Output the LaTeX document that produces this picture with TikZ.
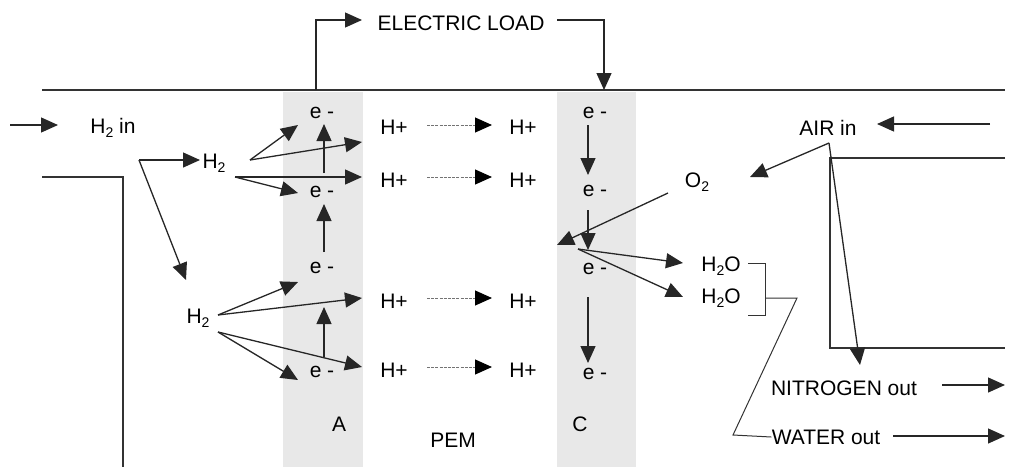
\documentclass[tikz,border=0pt]{standalone}
\usepackage{fontspec}
\setmainfont{Liberation Sans}
\usetikzlibrary{arrows.meta}
\newcommand{\chemsub}[1]{\raisebox{-0.35ex}{\fontsize{7}{8}\selectfont #1}}
\tikzset{
  lbl/.style={font=\fontsize{10.5}{12}\selectfont, inner sep=0pt},
  flow/.style={-{Triangle[length=8.5pt,width=7.5pt]}, line width=0.65pt, draw=black!85},
  ion/.style={-{Triangle[length=8.5pt,width=7.5pt,color=black]}, line width=0.5pt, draw=black!55, dash pattern=on 1.5pt off 0.6pt},
  wall/.style={line width=0.65pt, draw=black!80},
  band/.style={fill=black!9, draw=none},
}
\begin{document}
\begin{tikzpicture}[x=0.5pt, y=-0.5pt]
    \useasboundingbox (0,0) rectangle (1012,467);

    % Electrode bands
    \fill[band] (283,92) rectangle (363,467);
    \fill[band] (557,92) rectangle (636,467);

    % Cell walls
    \draw[wall] (42,90) -- (1005,90);
    \draw[wall] (42,177) -- (123,177) -- (123,467);
    \draw[wall] (1005,158) -- (830,158) -- (830,348) -- (1005,348);

    % External circuit
    \node[lbl] (load) at (461,23) {ELECTRIC LOAD};
    \coordinate (ltap) at (316,90);
    \coordinate (rtap) at (604,90);
    \draw[flow] (ltap) -- (316,20) -- (362,20);
    \draw[flow] (557,20) -- (rtap |- 0,20) -- (rtap);

    % Hydrogen side
    \node[lbl] (h2in) at (113,128) {H\chemsub{2} in};
    \node[lbl] (h2up) at (214,163) {H\chemsub{2}};
    \node[lbl] (h2dn) at (198,318) {H\chemsub{2}};
    \coordinate (hsplit) at (139,160);
    \draw[flow] (10,125) -- (58,125);
    \draw[flow] (hsplit) -- (200,160);
    \draw[flow] (hsplit) -- (186,280);

    % Anode electrons
    \node[lbl] (ea1) at (322,113) {e -};
    \node[lbl] (ea2) at (322,192) {e -};
    \node[lbl] (ea3) at (322,268) {e -};
    \node[lbl] (ea4) at (322,372) {e -};
    \draw[flow] (324,173) -- (324,124);
    \draw[flow] (324,252) -- (324,204);
    \draw[flow] (324,357) -- (324,307);

    % H2 splitting into e- and H+
    \coordinate (f1) at (250,160);
    \coordinate (f2) at (235,177);
    \coordinate (f3) at (218,315);
    \coordinate (f4) at (218,332);
    \draw[flow] (f1) -- (298,125);
    \draw[flow] (f1) -- (362,142);
    \draw[flow] (f2) -- (298,193);
    \draw[flow] (f2) -- (362,177);
    \draw[flow] (f3) -- (298,282);
    \draw[flow] (f3) -- (362,298);
    \draw[flow] (f4) -- (298,380);
    \draw[flow] (f4) -- (362,367);

    % Protons through the membrane
    \foreach \r/\yy/\ya in {1/127/125, 2/180/177, 3/301/298, 4/370/367} {
        \node[lbl] (hpl\r) at (394,\yy) {H+};
        \node[lbl] (hpr\r) at (523,\yy) {H+};
        \draw[ion] (427,\ya) -- (492,\ya);
    }

    % Cathode electrons
    \node[lbl] (ec1) at (595,113) {e -};
    \node[lbl] (ec2) at (595,191) {e -};
    \node[lbl] (ec3) at (595,269) {e -};
    \node[lbl] (ec4) at (595,374) {e -};
    \draw[flow] (588,125) -- (588,175);
    \draw[flow] (588,210) -- (588,250);
    \draw[flow] (588,297) -- (588,363);

    % Air side
    \node[lbl] (air) at (828,128) {AIR in};
    \node[lbl] (o2) at (697,182) {O\chemsub{2}};
    \coordinate (asplit) at (829,143);
    \draw[flow] (990,124) -- (877,124);
    \draw[flow] (asplit) -- (750,177);
    \draw[flow] (asplit) -- (860,365);
    \coordinate (react) at (578,249);
    \draw[flow] (668,193) -- (557,245);

    % Water formation
    \node[lbl] (w1) at (721,266) {H\chemsub{2}O};
    \node[lbl] (w2) at (721,298) {H\chemsub{2}O};
    \draw[flow] (react) -- (683,263);
    \draw[flow] (react) -- (683,297);
    \draw[wall, line width=0.5pt] (748,263) -- (765,263) -- (765,315) -- (748,315);

    % Outlets
    \node[lbl] (n2out) at (844,388) {NITROGEN out};
    \node[lbl] (wout) at (826,437) {WATER out};
    \draw[wall, line width=0.5pt] (765,298) -- (797,298) -- (733,435) -- (wout.west);
    \draw[flow] (942,385) -- (1005,385);
    \draw[flow] (893,436) -- (1005,436);

    % Layer labels
    \node[lbl] (anode) at (339,424) {A};
    \node[lbl] (pem) at (453,440) {PEM};
    \node[lbl] (cathode) at (580,424) {C};
\end{tikzpicture}
\end{document}
